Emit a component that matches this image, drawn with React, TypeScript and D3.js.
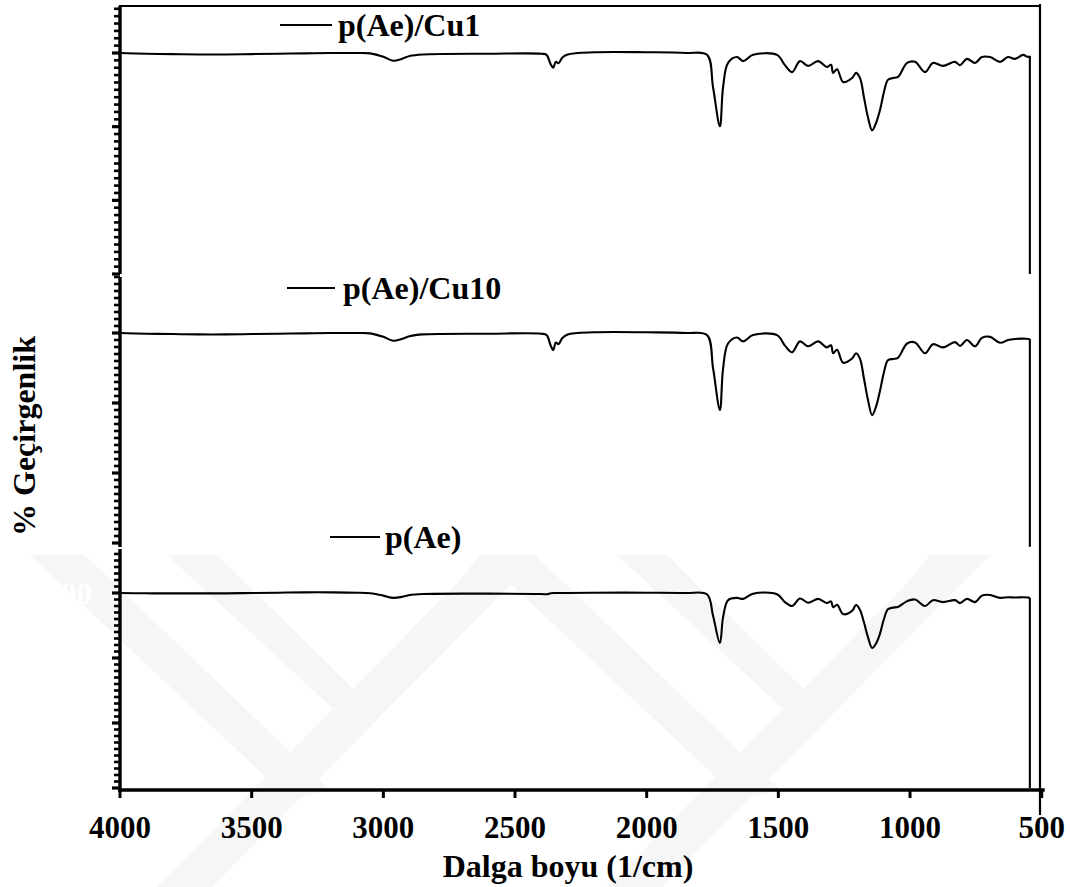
import React from "react";
import * as d3 from "d3";

// ---------- DATA ----------
const WAVENUMBERS = [
  4000, 3900, 3800, 3700, 3600, 3500, 3400, 3300, 3200, 3100,
  3050, 3000, 2963, 2930, 2900, 2850, 2600, 2400, 2380, 2365,
  2355, 2345, 2335, 2320, 2300, 2200, 2000, 1850, 1771, 1748,
  1722, 1710, 1691, 1657, 1634, 1596, 1505, 1475, 1448, 1418,
  1387, 1349, 1316, 1300, 1292, 1277, 1254, 1220, 1205, 1190,
  1175, 1160, 1144, 1129, 1114, 1099, 1084, 1065, 1046, 1011,
  981, 943, 913, 875, 829, 810, 784, 753, 727, 696,
  658, 628, 601, 571, 552, 545,
];

const T_CU1 = [
  100, 99.8, 99.7, 99.6, 99.6, 99.7, 99.8, 99.9, 100, 100,
  99.9, 99.0, 97.9, 98.4, 99.2, 99.6, 99.8, 99.8, 99.5, 97.0,
  96.0, 97.6, 97.2, 98.8, 99.6, 100.2, 100.2, 100, 99.5, 90.7,
  80.1, 90.7, 97.3, 98.9, 97.8, 99.5, 99.5, 96.7, 94.8, 97.8,
  96.5, 97.8, 96.2, 96.8, 94.6, 95.6, 92.1, 93.2, 94.6, 93.2,
  88, 82.6, 79, 81, 84.5, 89.4, 92.7, 93.2, 93.5, 97.3,
  97.6, 94.8, 97.3, 96.5, 97.6, 96.7, 98.4, 97.3, 98.9, 98.9,
  97.6, 98.9, 98.4, 99.5, 98.9, 99.2,
];

const T_CU10 = [
  100, 99.8, 99.7, 99.6, 99.6, 99.7, 99.8, 99.9, 100, 100,
  99.9, 98.9, 97.8, 98.3, 99.1, 99.6, 99.8, 99.8, 99.4, 96.5,
  95.1, 97.3, 96.8, 98.6, 99.6, 100.2, 100.2, 100, 99.4, 90.0,
  78.0, 89.8, 97.0, 98.7, 97.6, 99.4, 99.4, 96.4, 94.5, 97.6,
  96.2, 97.6, 95.9, 96.5, 94.2, 95.2, 91.5, 92.7, 94.2, 92.6,
  87, 81, 76.5, 79, 83.5, 88.8, 92.2, 92.6, 92.9, 97.0,
  97.3, 94.2, 96.8, 95.9, 97.4, 96.3, 98.0, 96.2, 98.6, 98.9,
  97.2, 98.0, 98.3, 98.4, 98.3, 98.3,
];

const T_PAE = [
  100, 99.9, 99.9, 99.9, 99.9, 100, 100.1, 100.2, 100.2, 100.1,
  99.9, 99.2, 98.5, 98.8, 99.4, 99.7, 99.8, 99.7, 99.6, 99.9,
  100, 100, 100, 100, 100, 100.1, 100.1, 100, 99.6, 93,
  84.6, 92.5, 97.8, 98.5, 98.2, 99.8, 99.6, 97.2, 96.0, 98.3,
  97.0, 98.2, 96.9, 97.4, 95.6, 96.4, 93.5, 94.5, 96.3, 94.8,
  91, 86.5, 83.1, 84.5, 87.5, 92, 95, 95.5, 95.7, 97.5,
  98.0, 96.0, 97.8, 97.2, 97.8, 96.9, 98.2, 97.2, 99.2, 99.4,
  98.5, 98.7, 98.6, 98.7, 98.6, 98.5,
];

const SERIES_NAMES = ["p(Ae)/Cu1", "p(Ae)/Cu10", "p(Ae)"];
const DROP_WAVENUMBER = [545, 545, 545];
const DROP_VALUE = [40, 38.9, 40];
const X_TICKS = [4000, 3500, 3000, 2500, 2000, 1500, 1000, 500];
const Y_MAJOR_TICKS = [100, 80, 60, 40];

// ---------- LAYOUT ----------
const W = 1070;
const H = 887;
const X0 = 120;
const X1 = 1041.7;
const FONT = "Liberation Serif, Times New Roman, serif";

const panels = [
  { series: T_CU1, top: 6, bottom: 274, y100: 53, y40: 274, legend: { x1: 280, x2: 332, y: 25, tx: 338, ty: 36 } },
  { series: T_CU10, top: 277, bottom: 547, y100: 333, y40: 543, legend: { x1: 287, x2: 335, y: 288, tx: 343, ty: 299 } },
  { series: T_PAE, top: 549, bottom: 790, y100: 593, y40: 788, legend: { x1: 330, x2: 380, y: 537, tx: 385, ty: 548 } },
];

export default function App() {
  const x = d3.scaleLinear().domain([4000, 500]).range([X0, X1]);

  const watermark = [
    [[30, 555], [85, 555], [330, 790], [290, 800]],
    [[167, 555], [217, 555], [365, 700], [345, 720]],
    [[345, 720], [365, 700], [530, 555], [480, 555]],
    [[157, 887], [212, 887], [540, 555], [485, 555]],
    [[480, 555], [535, 555], [780, 790], [740, 800]],
    [[617, 555], [667, 555], [815, 700], [795, 720]],
    [[795, 720], [815, 700], [980, 555], [930, 555]],
    [[607, 887], [662, 887], [990, 555], [935, 555]],
  ];

  return (
    <svg width={W} height={H} viewBox={`0 0 ${W} ${H}`} style={{ display: "block", position: "absolute", left: 0, top: 0 }}>
      <rect x={0} y={0} width={W} height={H} fill="#fff" />
      <g fill="#f6f6f6">
        {watermark.map((p, i) => (
          <polygon key={i} points={p.map((q) => q.join(",")).join(" ")} />
        ))}
      </g>

      {panels.map((p, pi) => {
        const y = d3.scaleLinear().domain([40, 100]).range([p.y40, p.y100]);
        const lo = y.invert(p.bottom);
        const hi = y.invert(p.top);
        const minor = d3.range(Math.ceil(lo / 2) * 2, hi + 0.001, 2);
        const pts = WAVENUMBERS.map((w, i) => [w, p.series[i]] as [number, number]);
        const line = d3
          .line<[number, number]>()
          .x((d) => x(d[0]))
          .y((d) => y(d[1]))
          .curve(d3.curveCatmullRom.alpha(0.5));
        const last = pts[pts.length - 1];
        const drop: [number, number][] = [last, [DROP_WAVENUMBER[pi], DROP_VALUE[pi]]];
        const dropLine = d3
          .line<[number, number]>()
          .x((d) => x(d[0]))
          .y((d) => y(d[1]));
        return (
          <g key={pi}>
            <line x1={X0} x2={X0} y1={p.top} y2={p.bottom} stroke="#000" strokeWidth={3.4} />
            {minor.map((v) => {
              const major = Y_MAJOR_TICKS.includes(Math.round(v));
              return (
                <line key={v} x1={X0 - (major ? 8 : 6)} x2={X0} y1={y(v)} y2={y(v)} stroke="#000" strokeWidth={major ? 3.2 : 2.6} />
              );
            })}
            {Y_MAJOR_TICKS.map((v) => (
              <text key={"l" + v} x={92} y={y(v) + 11} textAnchor="end" fontFamily={FONT} fontWeight="bold" fontSize={31} fill="#fff">
                {v}
              </text>
            ))}
            <path d={line(pts) || ""} fill="none" stroke="#000" strokeWidth={2.1} strokeLinejoin="round" />
            <path d={dropLine(drop) || ""} fill="none" stroke="#000" strokeWidth={2.1} />
            <line x1={p.legend.x1} x2={p.legend.x2} y1={p.legend.y} y2={p.legend.y} stroke="#000" strokeWidth={2} />
            <text x={p.legend.tx} y={p.legend.ty} fontFamily={FONT} fontWeight="bold" fontSize={32} fill="#000">
              {SERIES_NAMES[pi]}
            </text>
          </g>
        );
      })}

      <line x1={X0 - 1} x2={1039} y1={6} y2={6} stroke="#000" strokeWidth={2} />
      <line x1={1040} x2={1040} y1={4} y2={815} stroke="#000" strokeWidth={2.2} />

      <line x1={X0 - 2} x2={X1 + 3} y1={790} y2={790} stroke="#000" strokeWidth={3.5} />
      {X_TICKS.map((t) => (
        <g key={t}>
          <line x1={x(t)} x2={x(t)} y1={790} y2={798} stroke="#000" strokeWidth={3} />
          <text x={x(t)} y={838} textAnchor="middle" fontFamily={FONT} fontWeight="bold" fontSize={31} fill="#000">
            {t}
          </text>
        </g>
      ))}
      <text x={568} y={877} textAnchor="middle" fontFamily={FONT} fontWeight="bold" fontSize={32} fill="#000">
        Dalga boyu (1/cm)
      </text>
      <text
        transform={`translate(35, 436) rotate(-90)`}
        textAnchor="middle"
        fontFamily={FONT}
        fontWeight="bold"
        fontSize={32}
        fill="#000"
      >
        % Geçirgenlik
      </text>
    </svg>
  );
}
